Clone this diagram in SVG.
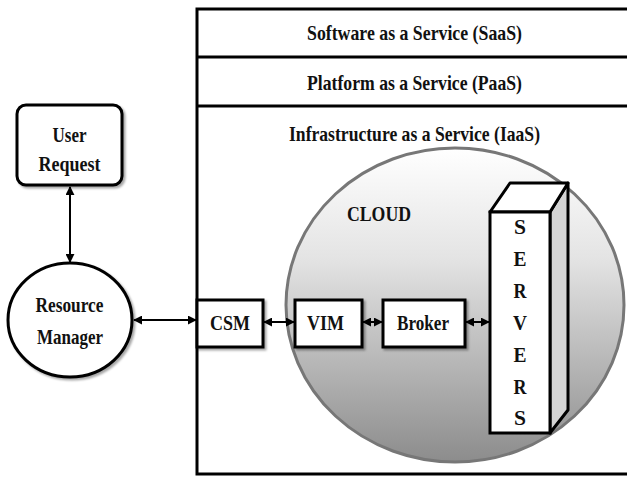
<svg xmlns="http://www.w3.org/2000/svg" width="627" height="478" viewBox="0 0 627 478">
  <style>
    .lbl { font-family: "Liberation Serif", "Times New Roman", serif; font-weight: bold; font-size: 22px; fill: #111; text-anchor: middle; }
    .box { fill: #fff; stroke: #000; stroke-width: 3; }
    .frame { fill: none; stroke: #000; stroke-width: 3; }
    .conn { stroke: #000; stroke-width: 2; fill: none; marker-start: url(#arr); marker-end: url(#arr); }
  </style>
  <defs>
    <linearGradient id="cloudFill" x1="0" y1="0" x2="0" y2="1">
      <stop offset="0" stop-color="#ffffff"/>
      <stop offset="0.35" stop-color="#e4e4e4"/>
      <stop offset="1" stop-color="#8c8c8c"/>
    </linearGradient>
    <filter id="shadow" x="-20%" y="-20%" width="140%" height="140%">
      <feDropShadow dx="2" dy="2" stdDeviation="1.2" flood-color="#000" flood-opacity="0.35"/>
    </filter>
    <marker id="arr" viewBox="0 0 10 10" refX="9" refY="5" markerWidth="4.5" markerHeight="4.5" orient="auto-start-reverse" markerUnits="strokeWidth">
      <path d="M0,0 L10,5 L0,10 z" fill="#000"/>
    </marker>
  </defs>

  <!-- service layers frame -->
  <g id="layers">
    <rect class="frame" x="197" y="9" width="445" height="465"/>
    <line class="frame" x1="197" y1="57" x2="627" y2="57"/>
    <line class="frame" x1="197" y1="106" x2="627" y2="106"/>
    <text class="lbl" x="414.5" y="40" textLength="215" lengthAdjust="spacingAndGlyphs">Software as a Service (SaaS)</text>
    <text class="lbl" x="414.5" y="90" textLength="215" lengthAdjust="spacingAndGlyphs">Platform as a Service (PaaS)</text>
    <text class="lbl" x="414.5" y="141" textLength="251" lengthAdjust="spacingAndGlyphs">Infrastructure as a Service (IaaS)</text>
  </g>

  <!-- cloud -->
  <g id="cloud">
    <ellipse cx="455" cy="305" rx="169" ry="157" fill="url(#cloudFill)" stroke="#777" stroke-width="3"/>
    <text class="lbl" x="379" y="221" textLength="64" lengthAdjust="spacingAndGlyphs">CLOUD</text>
  </g>

  <!-- connectors -->
  <g id="connectors">
    <line class="conn" x1="70" y1="187" x2="70" y2="262"/>
    <line class="conn" x1="134" y1="320" x2="196" y2="320"/>
    <line class="conn" x1="264" y1="322" x2="294" y2="322"/>
    <line class="conn" x1="363" y1="322" x2="382" y2="322"/>
    <line class="conn" x1="466" y1="322" x2="489" y2="322"/>
  </g>

  <g id="user-request">
    <rect class="box" x="17" y="105" width="105" height="80" rx="9" filter="url(#shadow)"/>
    <text class="lbl" x="69.5" y="142" textLength="34" lengthAdjust="spacingAndGlyphs">User</text>
    <text class="lbl" x="69.5" y="171" textLength="62" lengthAdjust="spacingAndGlyphs">Request</text>
  </g>

  <g id="resource-manager">
    <ellipse class="box" cx="70" cy="320" rx="62" ry="57" filter="url(#shadow)"/>
    <text class="lbl" x="69.5" y="312" textLength="68" lengthAdjust="spacingAndGlyphs">Resource</text>
    <text class="lbl" x="70" y="344" textLength="66" lengthAdjust="spacingAndGlyphs">Manager</text>
  </g>

  <g id="csm">
    <rect class="box" x="197" y="300" width="66" height="47" filter="url(#shadow)"/>
    <text class="lbl" x="230" y="330" textLength="40" lengthAdjust="spacingAndGlyphs">CSM</text>
  </g>

  <g id="vim">
    <rect class="box" x="295" y="300" width="67" height="47" filter="url(#shadow)"/>
    <text class="lbl" x="325.5" y="330" textLength="37" lengthAdjust="spacingAndGlyphs">VIM</text>
  </g>

  <g id="broker">
    <rect class="box" x="383" y="300" width="82" height="47" filter="url(#shadow)"/>
    <text class="lbl" x="423" y="330" textLength="52" lengthAdjust="spacingAndGlyphs">Broker</text>
  </g>

  <g id="servers">
    <polygon points="550,212 568,183 568,410 550,433" fill="#d4d4d4" stroke="#000" stroke-width="3" stroke-linejoin="round"/>
    <polygon points="490,212 510,183 568,183 550,212" fill="#fff" stroke="#000" stroke-width="3" stroke-linejoin="round"/>
    <rect class="box" x="490" y="212" width="60" height="221"/>
    <text class="lbl" x="520" y="234" textLength="12" lengthAdjust="spacingAndGlyphs">S</text>
    <text class="lbl" x="520" y="266" textLength="13" lengthAdjust="spacingAndGlyphs">E</text>
    <text class="lbl" x="520" y="298" textLength="13" lengthAdjust="spacingAndGlyphs">R</text>
    <text class="lbl" x="520" y="330" textLength="14" lengthAdjust="spacingAndGlyphs">V</text>
    <text class="lbl" x="520" y="362" textLength="13" lengthAdjust="spacingAndGlyphs">E</text>
    <text class="lbl" x="520" y="394" textLength="13" lengthAdjust="spacingAndGlyphs">R</text>
    <text class="lbl" x="520" y="425" textLength="12" lengthAdjust="spacingAndGlyphs">S</text>
  </g>
</svg>
